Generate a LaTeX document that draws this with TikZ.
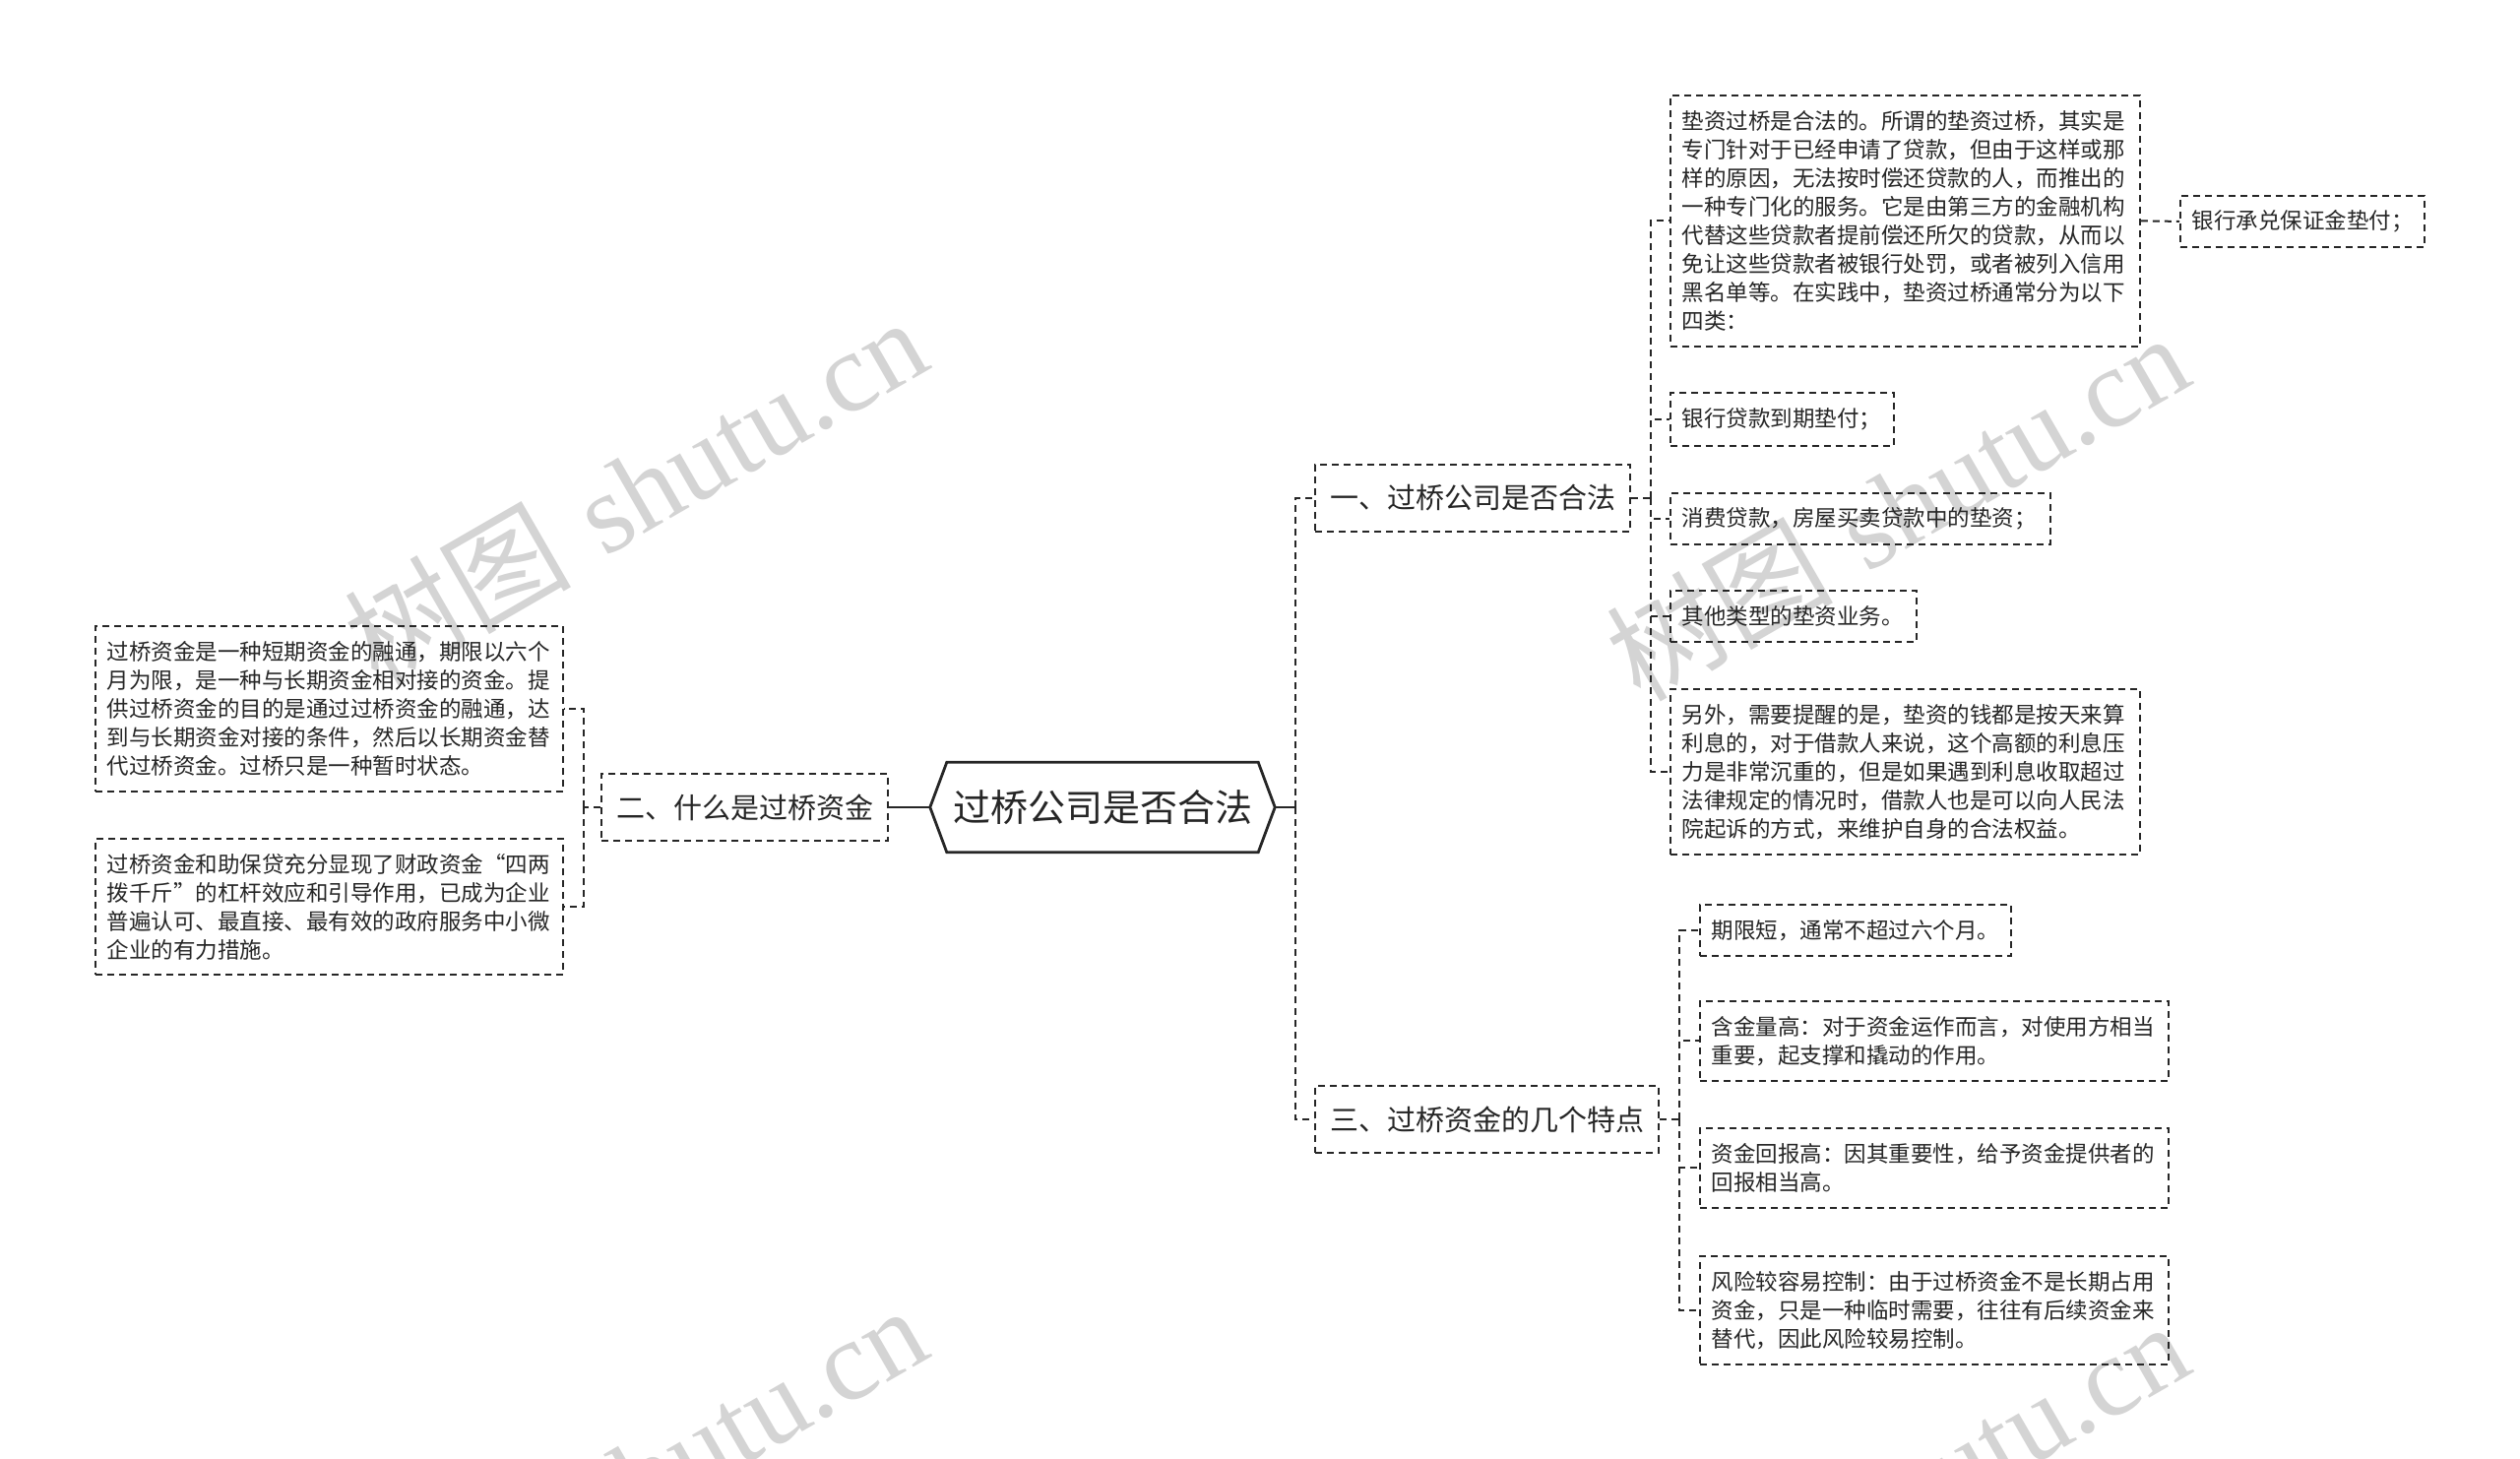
\documentclass[tikz,border=0pt]{standalone}
\usepackage{fontspec}
\newfontfamily\cjk{Noto Sans CJK SC}
\newfontfamily\wmserif{Liberation Serif}
\usetikzlibrary{calc}
\begin{document}
\begin{tikzpicture}[x=1pt,y=-1pt,
  conn/.style={line width=2pt, dash pattern=on 7pt off 5pt, draw=black!85},
  rootln/.style={line width=2.6pt, draw=black!85},
  lvone/.style={draw=black!85, line width=2pt, dash pattern=on 7pt off 5pt, font=\fontsize{29}{35}\cjk, inner xsep=15pt, inner ysep=4pt, minimum height=68pt, text=black!85},
  leaf/.style={draw=black!85, line width=1.8pt, dash pattern=on 7pt off 5pt, font=\fontsize{22.5}{29}\cjk, align=left, inner xsep=12pt, inner ysep=4pt, anchor=north west, text=black!85},
  wm/.style={text=black!17, rotate=30, inner sep=0pt, font=\fontsize{115}{120}\selectfont}
]
\fill[white] (0,0) rectangle (2560,1482);
\useasboundingbox (0,0) rectangle (2560,1482);
% watermarks
\begin{scope}
\clip (0,0) rectangle (2560,1482);
\node[wm] (wm1) at (645,498) {{\cjk 树图} {\wmserif shutu.cn}};
\node[wm] (wm2) at (1927,514) {{\cjk 树图} {\wmserif shutu.cn}};
\node[wm] (wm3) at (645,1502) {{\cjk 树图} {\wmserif shutu.cn}};
\node[wm] (wm4) at (1927,1518) {{\cjk 树图} {\wmserif shutu.cn}};
\end{scope}
% root
\node[font=\fontsize{38}{46}\cjk, text=black!85, minimum width=350pt, minimum height=91pt, inner sep=0pt] (root) at (1120,820) {过桥公司是否合法};
\draw[line width=2.8pt, draw=black!85, line join=miter] (root.west) -- ($(root.north west)+(17,0)$) -- ($(root.north east)+(-17,0)$) -- (root.east) -- ($(root.south east)+(-17,0)$) -- ($(root.south west)+(17,0)$) -- cycle;
% level one
\node[lvone, anchor=east] (b2) at (903,820) {二、什么是过桥资金};
\node[lvone, anchor=west] (b1) at (1335,506) {一、过桥公司是否合法};
\node[lvone, anchor=west] (b3) at (1335,1137) {三、过桥资金的几个特点};
% left leaves
\node[leaf, text width=451pt, minimum height=168pt] (l1) at (96,635) {过桥资金是一种短期资金的融通，期限以六个\\月为限，是一种与长期资金相对接的资金。提\\供过桥资金的目的是通过过桥资金的融通，达\\到与长期资金对接的条件，然后以长期资金替\\代过桥资金。过桥只是一种暂时状态。};
\node[leaf, text width=451pt, minimum height=138pt] (l2) at (96,851) {过桥资金和助保贷充分显现了财政资金“四两\\拨千斤”的杠杆效应和引导作用，已成为企业\\普遍认可、最直接、最有效的政府服务中小微\\企业的有力措施。};
% section one leaves
\node[leaf, text width=453pt, minimum height=255pt] (a1) at (1696,96) {垫资过桥是合法的。所谓的垫资过桥，其实是\\专门针对于已经申请了贷款，但由于这样或那\\样的原因，无法按时偿还贷款的人，而推出的\\一种专门化的服务。它是由第三方的金融机构\\代替这些贷款者提前偿还所欠的贷款，从而以\\免让这些贷款者被银行处罚，或者被列入信用\\黑名单等。在实践中，垫资过桥通常分为以下\\四类：};
\node[leaf, text width=224pt, minimum height=52pt] (g1) at (2214,198) {银行承兑保证金垫付；};
\node[leaf, text width=203pt, minimum height=54pt] (a2) at (1696,398) {银行贷款到期垫付；};
\node[leaf, text width=362pt, minimum height=52pt] (a3) at (1696,500) {消费贷款，房屋买卖贷款中的垫资；};
\node[leaf, text width=226pt, minimum height=52pt] (a4) at (1696,599) {其他类型的垫资业务。};
\node[leaf, text width=453pt, minimum height=168pt] (a5) at (1696,699) {另外，需要提醒的是，垫资的钱都是按天来算\\利息的，对于借款人来说，这个高额的利息压\\力是非常沉重的，但是如果遇到利息收取超过\\法律规定的情况时，借款人也是可以向人民法\\院起诉的方式，来维护自身的合法权益。};
% section three leaves
\node[leaf, text width=292pt, minimum height=52pt] (c1) at (1726,918) {期限短，通常不超过六个月。};
\node[leaf, text width=452pt, minimum height=81pt] (c2) at (1726,1016) {含金量高：对于资金运作而言，对使用方相当\\重要，起支撑和撬动的作用。};
\node[leaf, text width=452pt, minimum height=81pt] (c3) at (1726,1145) {资金回报高：因其重要性，给予资金提供者的\\回报相当高。};
\node[leaf, text width=452pt, minimum height=110pt] (c4) at (1726,1275) {风险较容易控制：由于过桥资金不是长期占用\\资金，只是一种临时需要，往往有后续资金来\\替代，因此风险较易控制。};
% junctions
\coordinate (jL) at (593,820);
\coordinate (jR) at (1316,820);
\coordinate (jA) at (1677,506);
\coordinate (jC) at (1706,1137);
% connectors
\draw[rootln] (root.west) -- (b2.east);
\draw[conn] (b2.west) -- (jL);
\draw[conn] (jL) |- (l1.east);
\draw[conn] (jL) |- (l2.east);
\draw[rootln] (root.east) -- (jR);
\draw[conn, line width=2.6pt] (jR) |- (b1.west);
\draw[conn, line width=2.6pt] (jR) |- (b3.west);
\draw[conn] (b1.east) -- (jA);
\draw[conn] (jA) |- (a1.west);
\draw[conn] (jA) |- (a2.west);
\draw[conn] (jA) |- (a3.west);
\draw[conn] (jA) |- (a4.west);
\draw[conn] (jA) |- (a5.west);
\draw[conn] (a1.east) -- (g1.west);
\draw[conn] (b3.east) -- (jC);
\draw[conn] (jC) |- (c1.west);
\draw[conn] (jC) |- (c2.west);
\draw[conn] (jC) |- (c3.west);
\draw[conn] (jC) |- (c4.west);
\end{tikzpicture}
\end{document}
